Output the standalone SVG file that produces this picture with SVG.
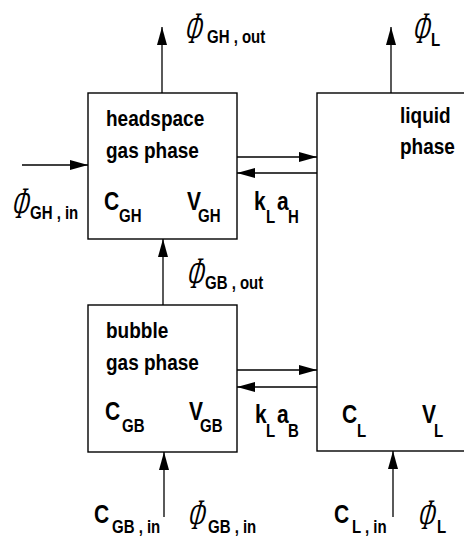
<svg xmlns="http://www.w3.org/2000/svg" width="464" height="539" viewBox="0 0 464 539">
<style>
.box{fill:#fff;stroke:#000;stroke-width:1.4}
.ln{fill:none;stroke:#000;stroke-width:1.3}
.t{font-family:"Liberation Sans",Arial,sans-serif;font-weight:bold;font-size:19px;fill:#000}
.big{font-family:"Liberation Sans",Arial,sans-serif;font-weight:bold;font-size:21px;fill:#000}
.sub{font-family:"Liberation Sans",Arial,sans-serif;font-weight:bold;font-size:15px;fill:#000}
.phi{font-family:"Liberation Serif","Times New Roman",serif;font-style:italic;font-size:30px;fill:#000}
</style>
<defs>
<marker id="ah" markerUnits="userSpaceOnUse" markerWidth="18" markerHeight="10" refX="18" refY="5" orient="auto">
<path d="M0,0 L18,5 L0,10 z" fill="#000"/>
</marker>
</defs>

<g id="headspace">
<rect class="box" x="88" y="93" width="149" height="146"/>
<text class="t" transform="translate(106,126) scale(1,1.15)">headspace</text>
<text class="t" transform="translate(106,158) scale(1,1.15)">gas phase</text>
<text class="big" transform="translate(104,210) scale(1,1.2)">C</text><text class="sub" transform="translate(119,222) scale(1,1.2)">GH</text>
<text class="big" transform="translate(187,210) scale(1,1.2)">V</text><text class="sub" transform="translate(198,222) scale(1,1.2)">GH</text>
</g>

<g id="bubble">
<rect class="box" x="88" y="305" width="149" height="147"/>
<text class="t" transform="translate(106,338) scale(1,1.15)">bubble</text>
<text class="t" transform="translate(106,370) scale(1,1.15)">gas phase</text>
<text class="big" transform="translate(105,420) scale(1,1.2)">C</text><text class="sub" transform="translate(122,432) scale(1,1.2)">GB</text>
<text class="big" transform="translate(189,420) scale(1,1.2)">V</text><text class="sub" transform="translate(200,432) scale(1,1.2)">GB</text>
</g>

<g id="liquid">
<rect class="box" x="317" y="93" width="170" height="358"/>
<text class="t" transform="translate(400,123) scale(1,1.15)">liquid</text>
<text class="t" transform="translate(400,154) scale(1,1.15)">phase</text>
<text class="big" transform="translate(342,423) scale(1,1.2)">C</text><text class="sub" transform="translate(357,437) scale(1,1.2)">L</text>
<text class="big" transform="translate(422,423) scale(1,1.2)">V</text><text class="sub" transform="translate(434,437) scale(1,1.2)">L</text>
</g>

<g id="connectors">
<line class="ln" x1="162" y1="93" x2="162" y2="27" marker-end="url(#ah)"/>
<line class="ln" x1="391" y1="93" x2="391" y2="27" marker-end="url(#ah)"/>
<line class="ln" x1="22" y1="165" x2="88" y2="165" marker-end="url(#ah)"/>
<line class="ln" x1="237" y1="157" x2="317" y2="157" marker-end="url(#ah)"/>
<line class="ln" x1="317" y1="173" x2="237" y2="173" marker-end="url(#ah)"/>
<line class="ln" x1="163" y1="305" x2="163" y2="239" marker-end="url(#ah)"/>
<line class="ln" x1="237" y1="370" x2="317" y2="370" marker-end="url(#ah)"/>
<line class="ln" x1="317" y1="387" x2="237" y2="387" marker-end="url(#ah)"/>
<line class="ln" x1="164" y1="517" x2="164" y2="452" marker-end="url(#ah)"/>
<line class="ln" x1="393" y1="517" x2="393" y2="451" marker-end="url(#ah)"/>
</g>

<g id="labels">
<text class="phi" transform="translate(184,43) skewX(-10) scale(0.72,1.5)">Φ</text><text class="sub" transform="translate(207,43) scale(1,1.2)">GH , out</text>
<text class="phi" transform="translate(412,43) skewX(-10) scale(0.72,1.5)">Φ</text><text class="sub" transform="translate(431,46) scale(1,1.2)">L</text>
<text class="phi" transform="translate(11,218) skewX(-10) scale(0.72,1.5)">Φ</text><text class="sub" transform="translate(30,219) scale(1,1.2)">GH , in</text>
<text class="phi" transform="translate(186,288) skewX(-10) scale(0.72,1.5)">Φ</text><text class="sub" transform="translate(205,289) scale(1,1.2)">GB , out</text>
<text class="big" transform="translate(254,210) scale(1,1.2)">k</text><text class="sub" transform="translate(266,223) scale(1,1.2)">L</text>
<text class="big" transform="translate(277,210) scale(1,1.2)">a</text><text class="sub" transform="translate(288,223) scale(1,1.2)">H</text>
<text class="big" transform="translate(255,423) scale(1,1.2)">k</text><text class="sub" transform="translate(266,437) scale(1,1.2)">L</text>
<text class="big" transform="translate(277,423) scale(1,1.2)">a</text><text class="sub" transform="translate(288,437) scale(1,1.2)">B</text>
<text class="big" transform="translate(94,523) scale(1,1.2)">C</text><text class="sub" transform="translate(112,533) scale(1,1.2)">GB , in</text>
<text class="phi" transform="translate(187,529) skewX(-10) scale(0.72,1.45)">Φ</text><text class="sub" transform="translate(208,533) scale(1,1.2)">GB , in</text>
<text class="big" transform="translate(334,523) scale(1,1.2)">C</text><text class="sub" transform="translate(352,533) scale(1,1.2)">L , in</text>
<text class="phi" transform="translate(417,529) skewX(-10) scale(0.72,1.45)">Φ</text><text class="sub" transform="translate(437,533) scale(1,1.2)">L</text>
</g>
</svg>
